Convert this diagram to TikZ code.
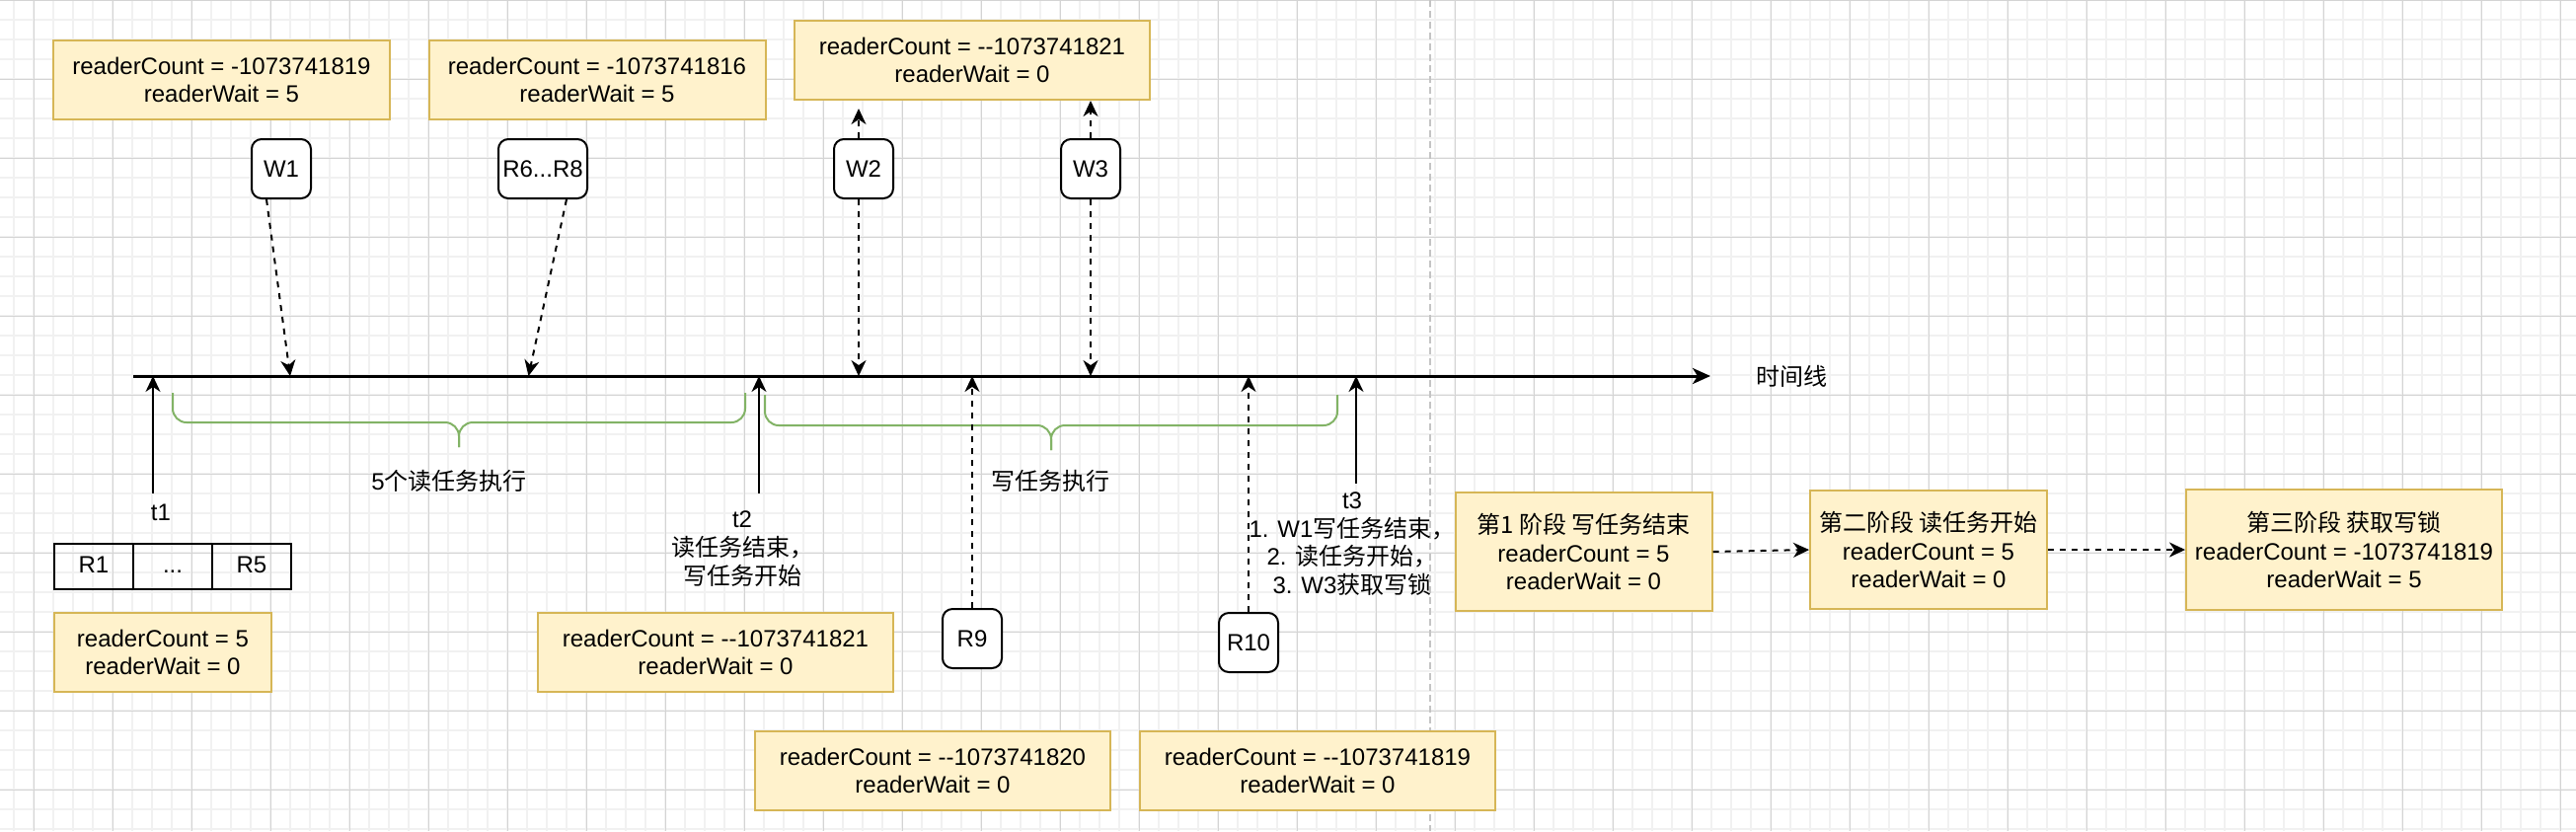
\documentclass[tikz,border=0pt]{standalone}
\usepackage{fontspec}
\setmainfont{Liberation Sans}
\newfontfamily\cjk{Noto Sans CJK SC}
\newcommand\zh[1]{{\cjk #1}}
\usetikzlibrary{arrows.meta,calc}
\definecolor{yfill}{HTML}{FFF2CC}
\definecolor{ydraw}{HTML}{D6B656}
\definecolor{gbrace}{HTML}{82B366}
\definecolor{gmajor}{HTML}{D4D4D4}
\definecolor{gminor}{HTML}{F1F1F1}
\definecolor{sepc}{HTML}{C4C4C4}
\begin{document}
\begin{tikzpicture}[x=0.5pt,y=-0.5pt,
 every node/.style={font=\fontsize{12}{14.4}\selectfont, inner sep=0pt},
 ybox/.style={draw=ydraw, fill=yfill, line width=1pt, align=center, minimum height=40pt},
 rbox/.style={draw=black, fill=white, line width=1pt, rounded corners=5pt, minimum width=30pt, minimum height=30pt},
 cell/.style={draw=black, line width=1pt, minimum width=40pt, minimum height=23pt, text height=8.6pt, text depth=2.5pt},
 lbl/.style={align=center},
 tip/.style={-{Stealth[length=8pt,width=7.5pt,inset=2.5pt]}},
 dar/.style={line width=1pt, dash pattern=on 3pt off 3pt, tip},
 sar/.style={line width=1pt, tip},
 brace/.style={draw=gbrace, line width=1pt, rounded corners=7pt},
]
\useasboundingbox (0,0) rectangle (2610,842);
\fill[white] (0,0) rectangle (2610,842);
% grid
\foreach \x in {14,34,...,2610} \draw[gminor, line width=0.8pt] (\x,0) -- (\x,842);
\foreach \y in {20,40,...,842} \draw[gminor, line width=0.8pt] (0,\y) -- (2610,\y);
\foreach \x in {34,114,...,2610} \draw[gmajor, line width=0.5pt] (\x,0) -- (\x,842);
\foreach \y in {0,80,...,842} \draw[gmajor, line width=0.5pt] (0,\y) -- (2610,\y);
% separator
\draw[sepc, line width=1pt, dash pattern=on 3.5pt off 2pt] (1449,0) -- (1449,842);

% timeline
\coordinate (tS) at (135,381);
\coordinate (tE) at (1733,381);
\draw[line width=1.5pt, -{Stealth[length=9pt,width=8pt,inset=2.5pt]}] (tS) -- (tE);
\node (tl) at (1815,381) {\zh{时间线}};

% yellow boxes
\node[ybox, minimum width=170.5pt] (A) at (224.5,81) {readerCount = -1073741819\\readerWait = 5};
\node[ybox, minimum width=170.5pt] (B) at (605,81) {readerCount = -1073741816\\readerWait = 5};
\node[ybox, minimum width=180pt] (C) at (985,61) {readerCount = -{}-1073741821\\readerWait = 0};
\node[ybox, minimum width=110pt] (D) at (165,661) {readerCount = 5\\readerWait = 0};
\node[ybox, minimum width=180pt] (E) at (725,661) {readerCount = -{}-1073741821\\readerWait = 0};
\node[ybox, minimum width=180pt] (F) at (945,781) {readerCount = -{}-1073741820\\readerWait = 0};
\node[ybox, minimum width=180pt] (G) at (1335,781) {readerCount = -{}-1073741819\\readerWait = 0};
\node[ybox, minimum width=130pt, minimum height=60pt] (H) at (1604.5,559) {\zh{第1 阶段 写任务结束}\\readerCount = 5\\readerWait = 0};
\node[ybox, minimum width=120pt, minimum height=60pt] (I) at (1954,557) {\zh{第二阶段 读任务开始}\\readerCount = 5\\readerWait = 0};
\node[ybox, minimum width=160pt, minimum height=61pt] (J) at (2375,557) {\zh{第三阶段 获取写锁}\\readerCount = -1073741819\\readerWait = 5};

% rounded task boxes
\node[rbox] (W1) at (285,171) {W1};
\node[rbox, minimum width=45pt] (R68) at (550,171) {R6...R8};
\node[rbox] (W2) at (875,171) {W2};
\node[rbox] (W3) at (1105,171) {W3};
\node[rbox] (R9) at (985,647) {R9};
\node[rbox] (R10) at (1265,651) {R10};

% R1 ... R5 table
\node[cell] (c1) at (95,574) {R1};
\node[cell] (c2) at (175,574) {...};
\node[cell] (c3) at (255,574) {R5};

% labels
\node (t1) at (163,519) {t1};
\node[lbl] (t2) at (752,556) {t2\\\zh{读任务结束，}\\\zh{写任务开始}};
\node[lbl] (t3) at (1370,551) {t3\\1. W1\zh{写任务结束，}\\2. \zh{读任务开始，}\\3. W3\zh{获取写锁}};
\node (b1) at (455,487) {5\zh{个读任务执行}};
\node (b2) at (1064,487) {\zh{写任务执行}};

% braces
\draw[brace] (175,398) |- (465,428) -- (465,453);
\draw[brace] (755,398) |- (465,428) -- (465,453);
\draw[brace] (775,400) |- (1065,431) -- (1065,456);
\draw[brace] (1355,400) |- (1065,431) -- (1065,456);

% arrows down to the timeline
\coordinate (aW1) at (294,381);
\coordinate (aR68) at (535.5,381);
\coordinate (aW2) at (870,381);
\coordinate (aW3) at (1105,381);
\coordinate (uW2) at (870,110);
\draw[dar] ($(W1.south)+(-15,0)$) -- (aW1);
\draw[dar] ($(R68.south)+(24,0)$) -- (aR68);
\draw[dar] ($(W2.south)+(-5,0)$) -- (aW2);
\draw[dar] ($(W2.north)+(-5,0)$) -- (uW2);
\draw[dar] (W3.south) -- (aW3);
\draw[dar] (W3.north) -- (W3.north |- C.south);

% arrows up to the timeline
\coordinate (p1) at (155,500);
\coordinate (p2) at (769,500);
\coordinate (p3) at (1374,490);
\draw[sar] (p1) -- (p1 |- tS);
\draw[sar] (p2) -- (p2 |- tS);
\draw[sar] (p3) -- (p3 |- tS);
\draw[dar] (R9.north) -- (R9.north |- tS);
\draw[dar] (R10.north) -- (R10.north |- tS);

% stage arrows
\draw[dar] (H.east) -- (I.west);
\draw[dar] (I.east) -- (J.west);
\end{tikzpicture}
\end{document}
